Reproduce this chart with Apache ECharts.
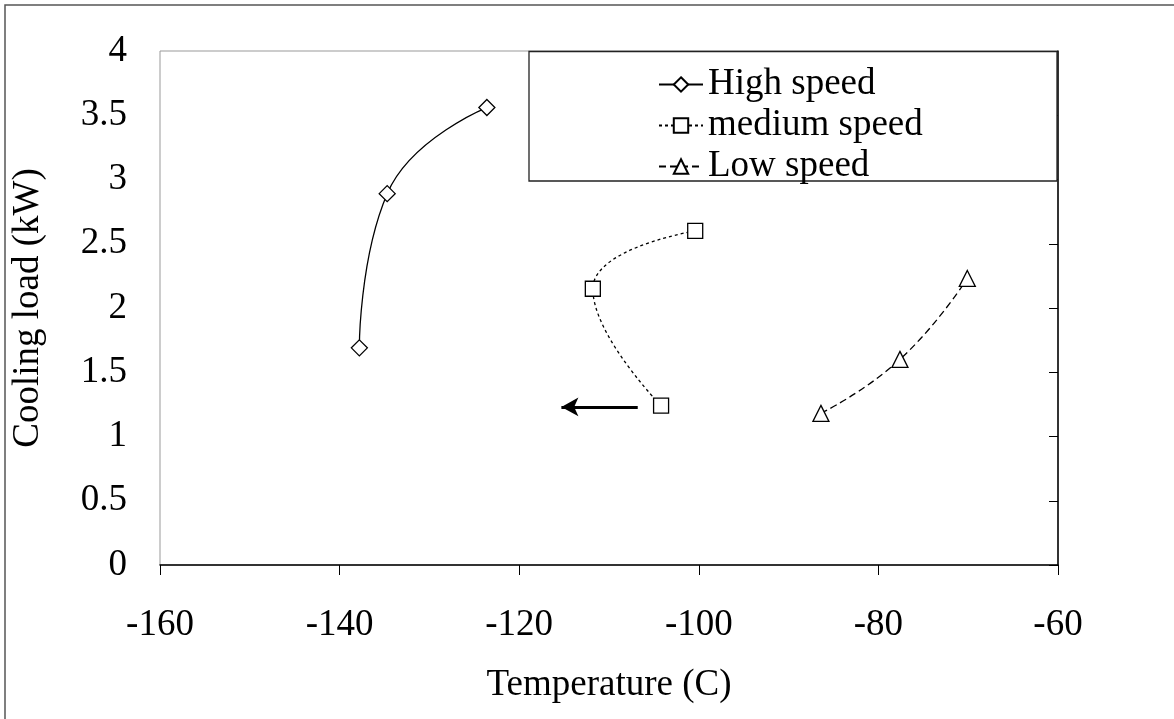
<!DOCTYPE html>
<html>
<head>
<meta charset="utf-8">
<script src="https://cdn.jsdelivr.net/npm/echarts@6/dist/echarts.min.js"></script>
<style>
  html, body { margin: 0; padding: 0; background: #fff; }
  #chart { width: 1174px; height: 719px; }
</style>
</head>
<body>
<div id="chart"></div>
<script>
// values
const highTemp = [-137.8, -134.7, -123.6];
const highLoad = [1.69, 2.89, 3.56];
const mediumTemp = [-100.4, -111.8, -104.2];
const mediumLoad = [2.60, 2.15, 1.24];
const lowTemp = [-86.4, -77.6, -70.1];
const lowLoad = [1.18, 1.60, 2.23];
const seriesNames = ["High speed", "medium speed", "Low speed"];
const arrowFrom = [-106.8, 1.23];
const arrowTo = [-115.3, 1.23];

const font = "'Liberation Serif', 'Times New Roman', serif";

function pairs(xs, ys) {
  return xs.map((x, i) => [x, ys[i]]);
}

const chart = echarts.init(document.getElementById("chart"));

const markerStyle = { color: "#fff", borderColor: "#000", borderWidth: 1.3 };

const option = {
  backgroundColor: "#fff",
  animation: false,
  textStyle: { fontFamily: font, color: "#000" },
  graphic: [
    {
      type: "rect",
      shape: { x: 5, y: 5, width: 1300, height: 900 },
      style: { fill: "none", stroke: "#555", lineWidth: 1.5 },
      z: 0,
    },
    {
      type: "rect",
      shape: { x: 529, y: 51.5, width: 528, height: 129.5 },
      style: { fill: "#fff", stroke: "#222", lineWidth: 1.3 },
      z: 5,
    },
  ],
  grid: {
    left: 160,
    right: 116,
    top: 51,
    bottom: 154,
    show: true,
    borderColor: "#999",
    borderWidth: 1,
  },
  legend: {
    data: seriesNames,
    orient: "vertical",
    left: 658,
    top: 64,
    padding: 0,
    itemGap: 0,
    itemWidth: 44,
    itemHeight: 18,
    z: 10,
    textStyle: { fontFamily: font, fontSize: 37, color: "#000", lineHeight: 41 },
  },
  xAxis: {
    type: "value",
    min: -160,
    max: -60,
    interval: 20,
    axisLine: { show: true, lineStyle: { color: "#000", width: 1.5 } },
    axisTick: { show: true, inside: false, length: 10, lineStyle: { color: "#000" } },
    splitLine: { show: false },
    axisLabel: { fontFamily: font, fontSize: 37, color: "#000", margin: 42 },
    name: "Temperature (C)",
    nameLocation: "middle",
    nameGap: 102,
    nameTextStyle: { fontFamily: font, fontSize: 37, color: "#000" },
  },
  yAxis: [
    {
      type: "value",
      position: "left",
      min: 0,
      max: 4,
      interval: 0.5,
      axisLine: { show: false },
      axisTick: { show: false },
      splitLine: { show: false },
      axisLabel: { fontFamily: font, fontSize: 37, color: "#000", margin: 33 },
      name: "Cooling load (kW)",
      nameLocation: "middle",
      nameGap: 113,
      nameTextStyle: { fontFamily: font, fontSize: 37, color: "#000" },
    },
    {
      type: "value",
      position: "right",
      min: 0,
      max: 4,
      interval: 0.5,
      axisLine: { show: true, lineStyle: { color: "#000", width: 1.5 } },
      axisTick: { show: true, inside: true, length: 9, lineStyle: { color: "#000" } },
      splitLine: { show: false },
      axisLabel: { show: false },
    },
  ],
  series: [
    {
      name: seriesNames[0],
      type: "line",
      smooth: 0.5,
      data: pairs(highTemp, highLoad),
      symbol: "diamond",
      symbolSize: 16,
      itemStyle: markerStyle,
      lineStyle: { color: "#000", width: 1.3, type: "solid" },
      z: 3,
    },
    {
      name: seriesNames[1],
      type: "line",
      smooth: 0.5,
      data: pairs(mediumTemp, mediumLoad),
      symbol: "rect",
      symbolSize: 15,
      itemStyle: markerStyle,
      lineStyle: { color: "#000", width: 1.3, type: [3, 3] },
      markLine: {
        silent: true,
        symbol: ["none", "arrow"],
        symbolSize: [14, 17],
        label: { show: false },
        lineStyle: { color: "#000", width: 3, type: "solid" },
        data: [[{ coord: arrowFrom }, { coord: arrowTo }]],
      },
      z: 3,
    },
    {
      name: seriesNames[2],
      type: "line",
      smooth: 0.5,
      data: pairs(lowTemp, lowLoad),
      symbol: "triangle",
      symbolSize: 16,
      itemStyle: markerStyle,
      lineStyle: { color: "#000", width: 1.3, type: [7, 4] },
      z: 3,
    },
  ],
};

chart.setOption(option);
</script>
</body>
</html>
